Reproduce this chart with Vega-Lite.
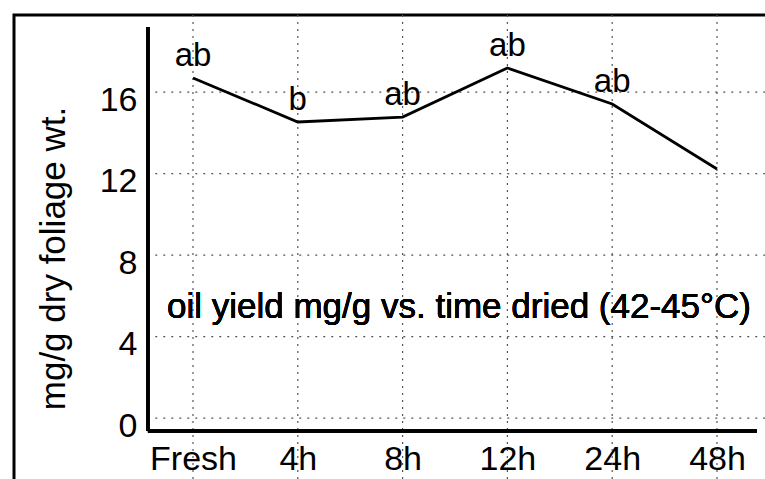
{
  "$schema": "https://vega.github.io/schema/vega-lite/v6.json",
  "autosize": "none",
  "width": 771,
  "height": 486,
  "padding": {"left": 14, "top": 15, "right": 0, "bottom": 0},
  "background": "white",
  "config": {
    "view": {"stroke": "black", "strokeWidth": 3},
    "font": "Liberation Sans"
  },
  "data": {
    "values": [
      {"order": 0, "time": "Fresh", "yield": 16.69, "group": "ab"},
      {"order": 1, "time": "4h", "yield": 14.53, "group": "b"},
      {"order": 2, "time": "8h", "yield": 14.77, "group": "ab"},
      {"order": 3, "time": "12h", "yield": 17.18, "group": "ab"},
      {"order": 4, "time": "24h", "yield": 15.41, "group": "ab"},
      {"order": 5, "time": "48h", "yield": 12.22, "group": ""}
    ]
  },
  "layer": [
    {
      "mark": {"type": "rule", "color": "#555", "strokeWidth": 1.2, "strokeDash": [2, 5]},
      "encoding": {
        "x": {
          "field": "order", "type": "quantitative",
          "scale": {"domain": [-1.708, 5.649], "nice": false, "zero": false},
          "axis": {
            "values": [0, 1, 2, 3, 4, 5],
            "labelExpr": "['Fresh','4h','8h','12h','24h','48h'][datum.value]",
            "offset": -70, "domain": false, "ticks": false, "grid": false,
            "labelFontSize": 34, "labelColor": "black", "labelPadding": 11,
            "labelFlush": false, "labelOverlap": false, "title": null
          }
        }
      }
    },
    {
      "data": {"values": [{"v": 0}, {"v": 4}, {"v": 8}, {"v": 12}, {"v": 16}]},
      "mark": {"type": "rule", "color": "#555", "strokeWidth": 1.2, "strokeDash": [2, 6]},
      "encoding": {
        "y": {
          "field": "v", "type": "quantitative",
          "scale": {"domain": [-4.07, 19.78], "nice": false, "zero": false},
          "axis": {
            "values": [0, 4, 8, 12, 16],
            "offset": -134, "domain": false, "ticks": false, "grid": false,
            "labelFontSize": 34, "labelColor": "black", "labelPadding": 11,
            "labelOffset": 8, "labelFlush": false, "labelOverlap": false,
            "title": "mg/g dry foliage wt.", "titleFontSize": 35,
            "titleFontWeight": "normal", "titleColor": "black", "titlePadding": 28
          }
        },
        "x": {"datum": -0.36, "type": "quantitative"},
        "x2": {"datum": 5.65}
      }
    },
    {
      "mark": {"type": "rule", "color": "black", "strokeWidth": 3},
      "encoding": {
        "x": {"datum": -0.43, "type": "quantitative"},
        "y": {"datum": -0.64, "type": "quantitative"},
        "y2": {"datum": 19.19}
      }
    },
    {
      "mark": {"type": "rule", "color": "black", "strokeWidth": 3},
      "encoding": {
        "x": {"datum": -0.43, "type": "quantitative"},
        "x2": {"datum": 5.38},
        "y": {"datum": -0.64, "type": "quantitative"}
      }
    },
    {
      "mark": {"type": "line", "color": "black", "strokeWidth": 2.8},
      "encoding": {
        "x": {"field": "order", "type": "quantitative"},
        "y": {"field": "yield", "type": "quantitative"}
      }
    },
    {
      "mark": {"type": "text", "fontSize": 33, "baseline": "alphabetic", "align": "center", "dy": -12, "color": "black"},
      "encoding": {
        "x": {"field": "order", "type": "quantitative"},
        "y": {"field": "yield", "type": "quantitative"},
        "text": {"field": "group"}
      }
    },
    {
      "mark": {"type": "text", "fontSize": 35, "baseline": "alphabetic", "align": "left", "color": "black"},
      "encoding": {
        "x": {"datum": -0.248, "type": "quantitative"},
        "y": {"datum": 4.91, "type": "quantitative"},
        "text": {"value": "oil yield mg/g vs. time dried (42-45°C)"}
      }
    }
  ]
}
